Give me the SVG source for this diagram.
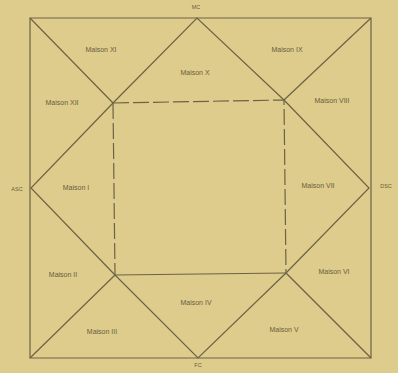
<svg xmlns="http://www.w3.org/2000/svg" width="398" height="373" viewBox="0 0 398 373">
<style>
.ln{stroke:#6e6245;stroke-width:1.2;fill:none}
.dash{stroke-dasharray:16 4}
.t{font-family:"Liberation Sans",Arial,sans-serif;font-size:7px;fill:#6a5c3c;text-anchor:middle;dominant-baseline:middle}
.s{font-size:5.5px}
</style>
<rect x="0" y="0" width="398" height="373" fill="#ddcc8c"/>
<g id="connectors">
<polygon class="ln" points="30,18 371,18 371,358 30,358" stroke-width="1.5"/>
<polyline class="ln" points="30,18 113,103"/>
<polyline class="ln" points="371,18 284,100"/>
<polyline class="ln" points="30,358 115,275"/>
<polyline class="ln" points="371,358 286,273"/>
<polyline class="ln" points="113,103 197,18 284,100"/>
<polyline class="ln" points="113,103 31,188 115,275"/>
<polyline class="ln" points="284,100 369,188 286,273"/>
<polyline class="ln" points="115,275 198,358 286,273"/>
<polyline class="ln dash" points="113,103 284,100 286,273"/>
<polyline class="ln dash" points="113,103 115,275"/>
<polyline class="ln" points="115,275 286,273"/>
</g>
<g id="angles">
<text class="t s" x="196" y="8">MC</text>
<text class="t s" x="17" y="190">ASC</text>
<text class="t s" x="386" y="187">DSC</text>
<text class="t s" x="198" y="366">FC</text>
</g>
<g id="house-11"><text class="t" x="101" y="50">Maison XI</text></g>
<g id="house-10"><text class="t" x="195" y="73">Maison X</text></g>
<g id="house-9"><text class="t" x="287" y="50">Maison IX</text></g>
<g id="house-12"><text class="t" x="62" y="103">Maison XII</text></g>
<g id="house-8"><text class="t" x="332" y="101">Maison VIII</text></g>
<g id="house-1"><text class="t" x="76" y="188">Maison I</text></g>
<g id="house-7"><text class="t" x="318" y="186">Maison VII</text></g>
<g id="house-2"><text class="t" x="63" y="275">Maison II</text></g>
<g id="house-6"><text class="t" x="334" y="272">Maison VI</text></g>
<g id="house-3"><text class="t" x="102" y="332">Maison III</text></g>
<g id="house-4"><text class="t" x="196" y="303">Maison IV</text></g>
<g id="house-5"><text class="t" x="284" y="330">Maison V</text></g>
</svg>
